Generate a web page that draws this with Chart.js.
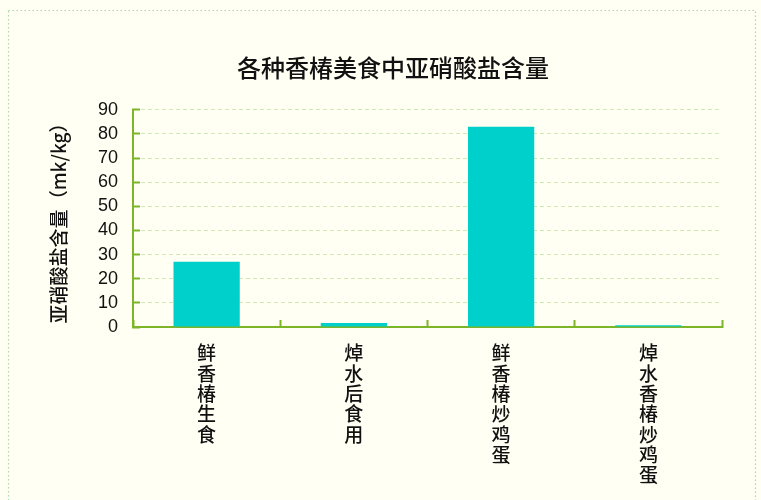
<!DOCTYPE html>
<html>
<head>
<meta charset="utf-8">
<script src="https://cdn.jsdelivr.net/npm/chart.js@4"></script>
<style>
    html, body { margin: 0; padding: 0; background: #fffff3; }
    #wrap { width: 761px; height: 500px; position: relative; }
</style>
</head>
<body>
<div id="wrap"><canvas id="nitriteChart"></canvas></div>
<script>
const titleText = "各种香椿美食中亚硝酸盐含量";
const yAxisTitle = "亚硝酸盐含量（mk/kg）";
const categories = ["鲜香椿生食", "焯水后食用", "鲜香椿炒鸡蛋", "焯水香椿炒鸡蛋"];
const nitriteValues = [27, 1.7, 83, 0.7];
const yMin = 0;
const yMax = 90;
const yStep = 10;

const colors = {
    bg: "#fffff3",
    bar: "#00d0cc",
    axis: "#7cb527",
    grid: "#cfe9b4",
    frame: "#a9d9a4",
    text: "#111111"
};

// light background and dotted frame round the whole picture
const framePlugin = {
    id: "frame",
    beforeDraw(chart) {
        const ctx = chart.ctx;
        ctx.save();
        ctx.fillStyle = colors.bg;
        ctx.fillRect(0, 0, chart.width, chart.height);
        ctx.strokeStyle = colors.frame;
        ctx.lineWidth = 1.2;
        ctx.setLineDash([1.5, 2.5]);
        ctx.strokeRect(8.5, 10.5, chart.width - 14, chart.height + 20);
        ctx.restore();
    }
};

new Chart(document.getElementById("nitriteChart"), {
    type: "bar",
    data: {
        labels: categories.map((s) => s.split("")),
        datasets: [{
            label: yAxisTitle,
            data: nitriteValues,
            backgroundColor: colors.bar,
            borderWidth: 0,
            categoryPercentage: 1,
            barPercentage: 0.45
        }]
    },
    options: {
        responsive: true,
        maintainAspectRatio: false,
        animation: false,
        layout: { padding: { left: 64, right: 39, top: 0, bottom: 0 } },
        plugins: {
            legend: { display: false },
            tooltip: { enabled: false },
            title: {
                display: true,
                text: titleText,
                color: colors.text,
                font: { family: "'Noto Sans CJK SC'", size: 24, weight: "500" },
                padding: { top: 53, bottom: 28 }
            }
        },
        scales: {
            x: {
                afterFit: (scale) => { scale.height = 173; },
                grid: {
                    display: true,
                    offset: true,
                    drawOnChartArea: false,
                    drawTicks: true,
                    tickLength: -7,
                    tickColor: colors.axis,
                    tickWidth: 2
                },
                border: { display: true, color: colors.axis, width: 2 },
                ticks: {
                    autoSkip: false,
                    maxRotation: 0,
                    minRotation: 0,
                    padding: 23,
                    color: colors.text,
                    font: { family: "'Noto Sans CJK SC'", size: 19, weight: "500", lineHeight: 1.07 }
                }
            },
            y: {
                min: yMin,
                max: yMax,
                afterFit: (scale) => { scale.width = 69; },
                grid: {
                    color: colors.grid,
                    lineWidth: 1,
                    drawTicks: true,
                    tickLength: -7,
                    tickColor: colors.axis,
                    tickWidth: 2
                },
                border: { display: true, color: colors.axis, width: 2, dash: [4, 3] },
                ticks: {
                    stepSize: yStep,
                    autoSkip: false,
                    padding: 22,
                    color: colors.text,
                    font: { family: "'Liberation Sans', Arial", size: 18 }
                },
                title: {
                    display: true,
                    text: yAxisTitle,
                    color: colors.text,
                    font: { family: "'Noto Sans CJK SC'", size: 19, weight: "500" },
                    padding: { top: -17, bottom: 0 }
                }
            }
        }
    },
    plugins: [framePlugin]
});
</script>
</body>
</html>
